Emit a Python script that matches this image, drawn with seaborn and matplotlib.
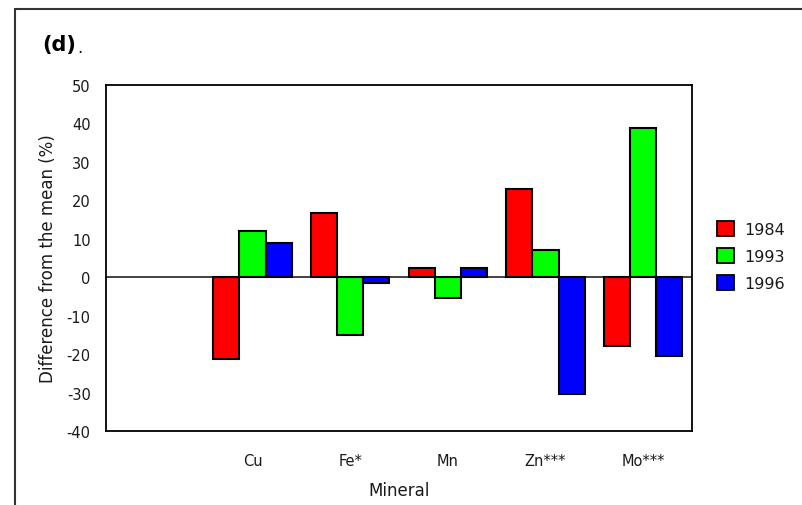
import matplotlib
matplotlib.use("Agg")
import matplotlib.pyplot as plt
from matplotlib.lines import Line2D
from matplotlib.patches import Patch
import seaborn as sns
import pandas as pd

minerals = ["Cu", "Fe*", "Mn", "Zn***", "Mo***"]
years = ["1984", "1993", "1996"]
diff_1984 = [-21.3, 16.6, 2.3, 22.9, -18.0]
diff_1993 = [11.9, -15.0, -5.5, 7.0, 38.7]
diff_1996 = [9.0, -1.6, 2.3, -30.5, -20.5]
year_colors = ["#ff0000", "#00ff00", "#0000ff"]

df = pd.DataFrame({
    "Mineral": minerals * 3,
    "Year": [y for y in years for _ in minerals],
    "Difference": diff_1984 + diff_1993 + diff_1996,
})

sns.set_theme(style="white")
plt.rcParams["font.family"] = ["DejaVu Sans"]
plt.rcParams["axes.unicode_minus"] = False
plt.rcParams["text.color"] = "#1a1a1a"
plt.rcParams["axes.labelcolor"] = "#1a1a1a"

fig = plt.figure(figsize=(8.03, 5.06), dpi=100)
ax = fig.add_axes([106 / 803, 1 - 432 / 506, (692 - 106) / 803, (432 - 86) / 506])

sns.barplot(data=df, x="Mineral", y="Difference", hue="Year", order=minerals,
            hue_order=years, palette=year_colors, width=0.8, saturation=1,
            edgecolor="black", linewidth=1.5, legend=False, ax=ax)

ax.axhline(0, color="#333333", lw=1.3, zorder=0.5)
ax.set_xlim(-1.5, 4.5)
ax.set_ylim(-40, 50)
ax.set_yticks(range(-40, 51, 10))
ax.tick_params(axis="both", length=0, labelsize=10.5, colors="#1a1a1a")
ax.tick_params(axis="y", pad=11)
ax.tick_params(axis="x", pad=16)
for s in ax.spines.values():
    s.set_color("black")
    s.set_linewidth(1.3)

ax.set_xlabel("Mineral", fontsize=12, labelpad=9)
ax.set_ylabel("Difference from the mean (%)", fontsize=12, labelpad=7)

handles = [Patch(facecolor=c, edgecolor="black", linewidth=1.3) for c in year_colors]
fig.legend(handles, years, loc="upper left", bbox_to_anchor=(703 / 803, 1 - 208 / 506),
           frameon=False, fontsize=11.5, handlelength=1.05, handleheight=1.05,
           handletextpad=0.65, labelspacing=0.7)

fig.text(42 / 803, 1 - 45 / 506, "(d)", fontsize=15, fontweight="bold",
         va="center", ha="left", color="black")
fig.text(77 / 803, 1 - 48 / 506, ".", fontsize=12, va="center", ha="left")

# outer panel frame
fig.add_artist(Line2D([15 / 803, 1], [1 - 10 / 506, 1 - 10 / 506], color="#333333", lw=1.5))
fig.add_artist(Line2D([15 / 803, 15 / 803], [0, 1 - 10 / 506], color="#333333", lw=1.5))

fig.savefig("out.png", dpi=100)
